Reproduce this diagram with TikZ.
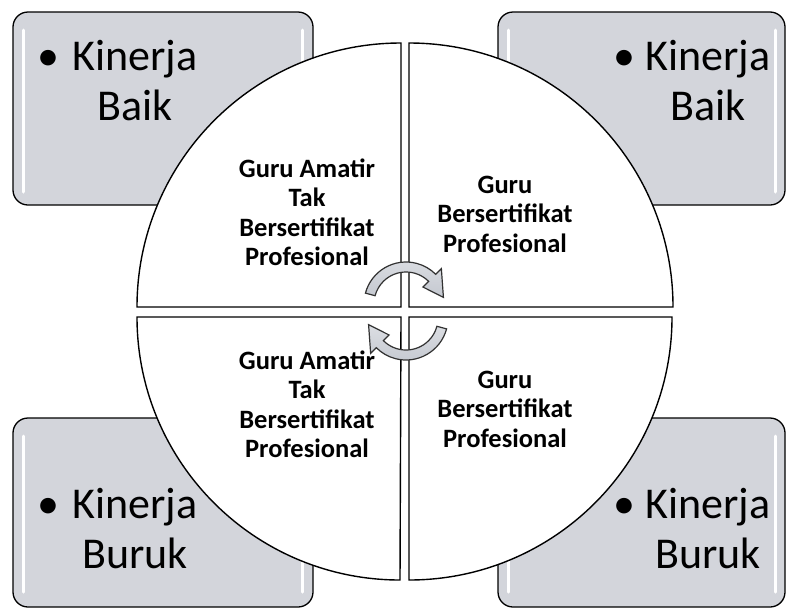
\documentclass[tikz,border=0pt]{standalone}
\usepackage{fontspec}
\setmainfont{Carlito}
\definecolor{boxgray}{RGB}{211,213,219}
\definecolor{arrfill}{RGB}{196,200,208}
\definecolor{arrline}{RGB}{50,50,50}
\begin{document}
\begin{tikzpicture}[x=1pt,y=1pt,
  box/.style={draw=black, line width=1.3pt, rounded corners=15pt, fill=boxgray},
  shine/.style={draw=white, line width=3pt, line cap=round},
  quad/.style={draw=black, line width=1.4pt, fill=white},
  big/.style={font=\fontsize{44}{50}\selectfont, inner sep=0pt},
  qtext/.style={font=\bfseries\fontsize{26.5}{29.5}\selectfont, inner sep=0pt},
  arr/.style={draw=arrline, line width=1.2pt, top color=arrfill!60!white, bottom color=arrfill}]
\useasboundingbox (0,0) rectangle (786,-611);
% corner boxes
\draw[box] (13,-12) rectangle (313,-205);
\draw[box] (498,-12) rectangle (785,-205);
\draw[box] (13,-418) rectangle (313,-607);
\draw[box] (498,-418) rectangle (785,-607);
\draw[shine] (23,-30) -- (23,-192);
\draw[shine] (302,-30) -- (302,-192);
\draw[shine] (508,-30) -- (508,-192);
\draw[shine] (775,-30) -- (775,-192);
\draw[shine] (23,-436) -- (23,-592);
\draw[shine] (302,-436) -- (302,-592);
\draw[shine] (508,-436) -- (508,-592);
\draw[shine] (775,-436) -- (775,-592);
% quadrants
\draw[quad] (401,-307) -- (137,-307) arc (180:90:264) -- cycle;
\draw[quad] (409,-307) -- (409,-43) arc (90:0:264) -- cycle;
\draw[quad] (401,-317) -- (137,-317) arc (180:270:263) -- cycle;
\draw[quad] (409,-317) -- (672,-317) arc (0:-90:263) -- cycle;
% corner texts
\node[big, anchor=base] (b1) at (48,-70) {•};
\node[big, anchor=base] (t1) at (135,-70) {\begin{tabular}[t]{@{}c@{}}Kinerja\\Baik\end{tabular}};
\node[big, anchor=base] (b2) at (624,-70) {•};
\node[big, anchor=base] (t2) at (708,-70) {\begin{tabular}[t]{@{}c@{}}Kinerja\\Baik\end{tabular}};
\node[big, anchor=base] (b3) at (48,-518) {•};
\node[big, anchor=base] (t3) at (135,-518) {\begin{tabular}[t]{@{}c@{}}Kinerja\\Buruk\end{tabular}};
\node[big, anchor=base] (b4) at (624,-518) {•};
\node[big, anchor=base] (t4) at (708,-518) {\begin{tabular}[t]{@{}c@{}}Kinerja\\Buruk\end{tabular}};
% quadrant texts
\node[qtext, anchor=base] (q1) at (307,-177) {\begin{tabular}[t]{@{}c@{}}Guru Amatir\\Tak\\Bersertifikat\\Profesional\end{tabular}};
\node[qtext, anchor=base] (q2) at (505,-193) {\begin{tabular}[t]{@{}c@{}}Guru\\Bersertifikat\\Profesional\end{tabular}};
\node[qtext, anchor=base] (q3) at (307,-369) {\begin{tabular}[t]{@{}c@{}}Guru Amatir\\Tak\\Bersertifikat\\Profesional\end{tabular}};
\node[qtext, anchor=base] (q4) at (505,-388) {\begin{tabular}[t]{@{}c@{}}Guru\\Bersertifikat\\Profesional\end{tabular}};
% circular arrows
\coordinate (c1) at (406,-304);
\coordinate (c2) at (406,-318);
\draw[arr] ([shift={(165:42)}]c1) arc (165:45:42) -- ([shift={(45:50)}]c1)
  -- ([shift={(10:38)}]c1) -- ([shift={(45:24)}]c1) -- ([shift={(45:32)}]c1)
  arc (45:165:32) -- cycle;
\draw[arr] ([shift={(345:42)}]c2) arc (345:225:42) -- ([shift={(225:50)}]c2)
  -- ([shift={(190:38)}]c2) -- ([shift={(225:24)}]c2) -- ([shift={(225:32)}]c2)
  arc (225:345:32) -- cycle;
\end{tikzpicture}
\end{document}
